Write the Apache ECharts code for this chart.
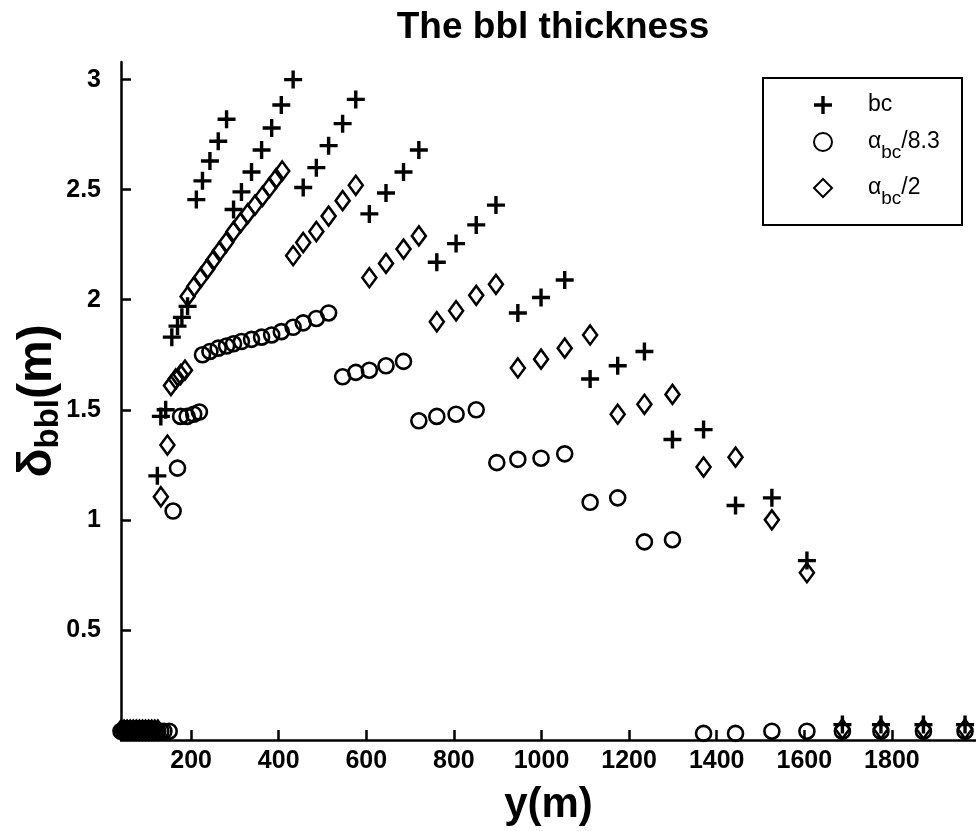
<!DOCTYPE html>
<html>
<head>
<meta charset="utf-8">
<script src="https://cdn.jsdelivr.net/npm/echarts@6/dist/echarts.min.js"></script>
<style>
html,body{margin:0;padding:0;background:#fff;}
#chart{width:976px;height:831px;}
</style>
</head>
<body>
<div id="chart"></div>
<script>
// ---- data (x = y(m), value = delta_bbl(m)) ----
const bcX = [44, 52, 60, 68, 76, 84, 92, 100, 108,
  123, 131, 142, 156, 169, 179, 192,
  212, 226, 243, 262, 281,
  297, 315, 338, 361, 384, 406, 433,
  456, 486, 514, 546, 576,
  607, 645, 685, 720,
  761, 805, 851, 896,
  946, 999, 1053,
  1111, 1174, 1235,
  1299, 1370,
  1443, 1526,
  1606,
  1687, 1775, 1872, 1967];
const bcY = [0.05, 0.05, 0.05, 0.05, 0.05, 0.05, 0.05, 0.05, 0.05,
  1.20, 1.47, 1.50, 1.83, 1.88, 1.92, 1.97,
  2.455, 2.54, 2.63, 2.72, 2.82,
  2.41, 2.49, 2.58, 2.68, 2.78, 2.885, 3.00,
  2.51, 2.60, 2.70, 2.80, 2.91,
  2.39, 2.485, 2.58, 2.68,
  2.17, 2.255, 2.34, 2.43,
  1.94, 2.01, 2.09,
  1.64, 1.70, 1.765,
  1.365, 1.41,
  1.065, 1.10,
  0.815,
  0.07, 0.07, 0.07, 0.07];

const a83X = [40, 47, 54, 61, 68, 75, 82, 89, 96, 103, 110, 117, 124, 131, 138, 150,
  159, 169, 176, 191, 206, 219,
  226, 243, 262, 281, 297, 315, 338, 361, 384, 406, 433, 456, 486, 514,
  546, 576, 607, 645, 685,
  720, 761, 805, 851,
  898, 946, 999, 1053,
  1111, 1174,
  1235, 1299,
  1370, 1443, 1526, 1606,
  1687, 1775, 1872, 1967];
const a83Y = [0.04, 0.04, 0.04, 0.04, 0.04, 0.04, 0.04, 0.04, 0.04, 0.04, 0.04, 0.04, 0.04, 0.04, 0.04, 0.04,
  1.04, 1.235, 1.47, 1.47, 1.48, 1.49,
  1.75, 1.765, 1.78, 1.79, 1.80, 1.81, 1.82, 1.83, 1.84, 1.855, 1.875, 1.895, 1.915, 1.94,
  1.65, 1.67, 1.68, 1.70, 1.72,
  1.45, 1.47, 1.48, 1.50,
  1.26, 1.275, 1.28, 1.30,
  1.08, 1.10,
  0.90, 0.91,
  0.03, 0.03, 0.04, 0.04,
  0.04, 0.04, 0.04, 0.04];

const a2X = [40, 47, 54, 61, 68, 75, 82, 89, 96, 103, 110, 117, 124,
  131, 146, 154, 165, 176, 186,
  192, 207, 222, 237, 251, 265, 280, 297, 313, 329, 346, 363, 379, 394, 408,
  433, 456, 486, 514, 546, 576,
  607, 645, 685, 720,
  761, 805, 851, 896,
  946, 999, 1053, 1111,
  1174, 1235, 1299,
  1370, 1443,
  1526,
  1606,
  1687, 1775, 1872, 1967];
const a2Y = [0.045, 0.045, 0.045, 0.045, 0.045, 0.045, 0.045, 0.045, 0.045, 0.045, 0.045, 0.045, 0.045,
  1.105, 1.34, 1.61, 1.64, 1.66, 1.68,
  2.015, 2.06, 2.10, 2.14, 2.18, 2.22, 2.26, 2.31, 2.35, 2.39, 2.43, 2.47, 2.51, 2.55, 2.585,
  2.20, 2.26, 2.31, 2.38, 2.45, 2.52,
  2.10, 2.165, 2.23, 2.29,
  1.90, 1.95, 2.02, 2.07,
  1.69, 1.73, 1.78, 1.84,
  1.48, 1.525, 1.57,
  1.24, 1.285,
  1.00,
  0.76,
  0.05, 0.05, 0.05, 0.05];

const xTicks = [200, 400, 600, 800, 1000, 1200, 1400, 1600, 1800];
const yTicks = [0.5, 1, 1.5, 2, 2.5, 3];

const seriesNames = ['bc', 'α_bc/8.3', 'α_bc/2'];

// ---- chart ----
const FONT = '"Liberation Sans", Arial, sans-serif';
const plusPath = 'path://M-1.7,-9 L1.7,-9 L1.7,-1.7 L9,-1.7 L9,1.7 L1.7,1.7 L1.7,9 L-1.7,9 L-1.7,1.7 L-9,1.7 L-9,-1.7 L-1.7,-1.7 Z';
const zip = (xs, ys) => xs.map((x, i) => [x, ys[i]]);

const chart = echarts.init(document.getElementById('chart'), null, {renderer: 'canvas'});
const hollow = {color: 'rgba(0,0,0,0)', borderColor: '#000', borderWidth: 2.6, opacity: 1};

chart.setOption({
  animation: false,
  backgroundColor: '#fff',
  title: {
    text: 'The bbl thickness',
    left: 548, top: 4, textAlign: 'center',
    textStyle: {fontFamily: FONT, fontSize: 37, fontWeight: 'bold', color: '#000'}
  },
  grid: {left: 121, right: 0, top: 62, bottom: 91, containLabel: false, outerBoundsMode: 'none'},
  xAxis: {
    type: 'value', min: 40, max: 1992,
    name: 'y(m)', nameLocation: 'middle', nameGap: 44, nameMoveOverlap: false,
    nameTextStyle: {fontFamily: FONT, fontSize: 42, fontWeight: 'bold', color: '#000'},
    axisLine: {show: true, onZero: false, lineStyle: {color: '#000', width: 2.5}},
    axisTick: {show: true, inside: true, length: 10, customValues: xTicks, lineStyle: {color: '#000', width: 2.5}},
    axisLabel: {customValues: xTicks, margin: 9, fontFamily: FONT, fontSize: 25, fontWeight: 'bold', color: '#000',
      formatter: v => String(v)},
    splitLine: {show: false}
  },
  yAxis: {
    type: 'value', min: 0, max: 3.08,
    name: 'δ{s|bbl}(m)', nameLocation: 'middle', nameGap: 56, nameRotate: 90, nameMoveOverlap: false,
    nameTextStyle: {fontFamily: FONT, fontSize: 48, fontWeight: 'bold', color: '#000',
      rich: {s: {fontFamily: FONT, fontSize: 33, fontWeight: 'bold', color: '#000', padding: [22, 0, 0, 0]}}},
    axisLine: {show: true, onZero: false, lineStyle: {color: '#000', width: 2.5}},
    axisTick: {show: true, inside: true, length: 10, customValues: yTicks, lineStyle: {color: '#000', width: 2.5}},
    axisLabel: {customValues: yTicks, margin: 20, fontFamily: FONT, fontSize: 25, fontWeight: 'bold', color: '#000',
      formatter: v => String(v)},
    splitLine: {show: false}
  },
  legend: {
    orient: 'vertical', left: 808, top: 88,
    itemWidth: 18, itemHeight: 18, itemGap: 14,
    data: seriesNames,
    formatter: function (n) {
      if (n === 'bc') return '{sp|}{a|bc}';
      if (n === 'α_bc/8.3') return '{sp|}{a|α}{s|bc}{a|/8.3}';
      return '{sp|}{a|α}{s|bc}{a|/2}';
    },
    textStyle: {
      rich: {
        sp: {width: 31},
        a: {fontFamily: FONT, fontSize: 23, color: '#000', verticalAlign: 'top', lineHeight: 24},
        s: {fontFamily: FONT, fontSize: 19, color: '#000', verticalAlign: 'top', lineHeight: 19, padding: [13, 0, 0, 0]}
      }
    }
  },
  graphic: [{
    type: 'rect', shape: {x: 763, y: 78, width: 199, height: 147},
    style: {fill: 'none', stroke: '#000', lineWidth: 2}, z: 10
  }],
  series: [
    {name: 'bc', type: 'scatter', data: zip(bcX, bcY), symbol: plusPath, symbolSize: 18,
      itemStyle: {color: '#000', borderWidth: 0, opacity: 1}, z: 3},
    {name: 'α_bc/8.3', type: 'scatter', data: zip(a83X, a83Y), symbol: 'circle', symbolSize: 15,
      itemStyle: hollow, z: 2},
    {name: 'α_bc/2', type: 'scatter', data: zip(a2X, a2Y), symbol: 'diamond', symbolSize: [14, 19],
      itemStyle: hollow, z: 2}
  ]
});
</script>
</body>
</html>
